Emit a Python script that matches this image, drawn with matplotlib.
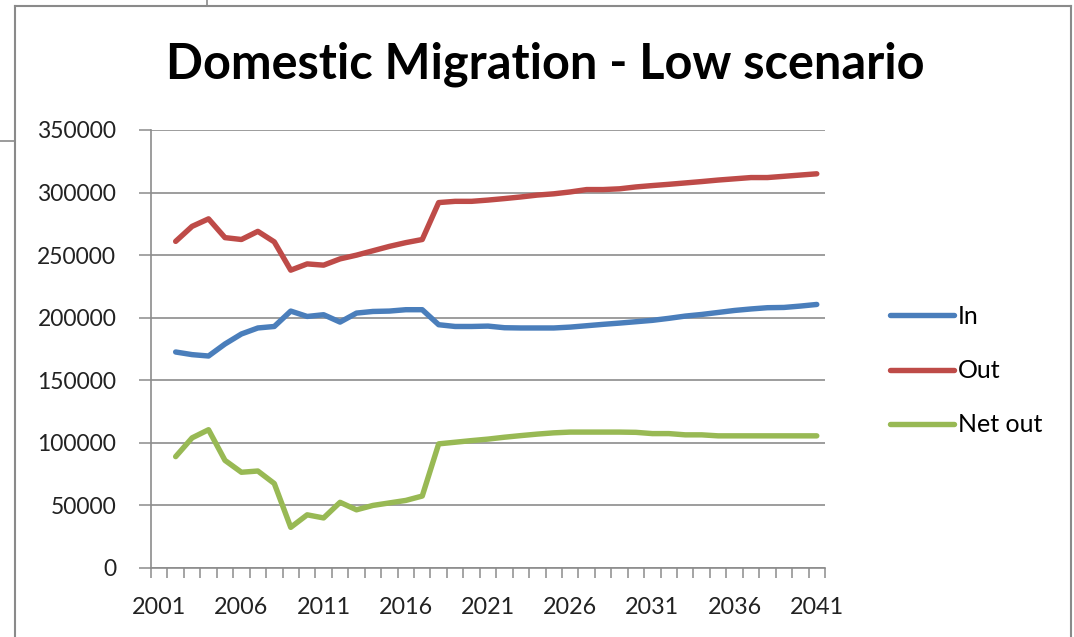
import matplotlib
matplotlib.use("Agg")
import matplotlib.pyplot as plt
from matplotlib.lines import Line2D
import numpy as np

plt.rcParams['font.family'] = ['Lato', 'DejaVu Sans']

categories = list(range(2001, 2042))
years = list(range(2002, 2042))

in_vals = [172600, 170500, 169400, 179000, 187000, 191800, 193000, 205300, 201000, 202400,
           196500, 203700, 205000, 205300, 206400, 206400, 194400, 193000, 193000, 193300,
           192000, 191800, 191800, 191800, 192500, 193600, 194700, 195700, 196800, 197900,
           199500, 201300, 202600, 204200, 205800, 207000, 208000, 208200, 209300, 210600]
out_vals = [261000, 273000, 279000, 264000, 262500, 269000, 260600, 238000, 243000, 242000,
            247000, 250000, 253500, 257000, 260000, 262500, 292000, 293000, 293000, 294000,
            295200, 296500, 298000, 299000, 300500, 302400, 302400, 303000, 304500, 305600,
            306600, 307700, 308800, 310000, 311000, 312000, 312000, 313000, 314000, 315000]
net_vals = [89000, 104000, 110500, 86000, 76500, 77500, 67500, 32500, 42500, 40000,
            52500, 46500, 50000, 52000, 54000, 57500, 99200, 100500, 101800, 103000,
            104500, 105800, 107000, 108000, 108600, 108600, 108600, 108600, 108400, 107400,
            107400, 106400, 106400, 105600, 105600, 105600, 105600, 105600, 105600, 105600]

series_names = ["In", "Out", "Net out"]
colors = ["#4A7EBB", "#BE4B48", "#98B954"]
y_ticks = [0, 50000, 100000, 150000, 200000, 250000, 300000, 350000]
x_labels = [2001, 2006, 2011, 2016, 2021, 2026, 2031, 2036, 2041]

W, H = 1074, 637
fig = plt.figure(figsize=(W / 100, H / 100), dpi=100)
fig.patch.set_facecolor("white")

# plot area in pixels: x 151..825, y 130..568
ax = fig.add_axes([151 / W, 1 - 568 / H, (825 - 151) / W, (568 - 130) / H])

for vals, name, c in zip([in_vals, out_vals, net_vals], series_names, colors):
    ax.plot(years, vals, color=c, lw=3.9, label=name, solid_capstyle='round',
            solid_joinstyle='round', zorder=3)

ax.set_xlim(categories[0] - 0.5, categories[-1] + 0.5)
ax.set_ylim(0, 350000)
ax.set_yticks(y_ticks)
ax.set_yticklabels([str(v) for v in y_ticks], fontsize=16.5, color="#222222")
ax.yaxis.grid(True, color="#8c8c8c", lw=1.2, zorder=1)
ax.set_axisbelow(True)

bounds = np.arange(categories[0] - 0.5, categories[-1] + 1.0, 1.0)
ax.set_xticks(bounds, minor=True)
ax.set_xticks(x_labels)
ax.set_xticklabels([str(v) for v in x_labels], fontsize=16.8, color="#222222")
ax.tick_params(axis='x', which='major', length=0, pad=21)
ax.tick_params(axis='x', which='minor', length=7, width=1.1, color="#8c8c8c", direction='out')
ax.tick_params(axis='y', which='major', length=9, width=1.1, color="#8c8c8c", pad=16)

for s in ['top', 'right']:
    ax.spines[s].set_visible(False)
for s in ['left', 'bottom']:
    ax.spines[s].set_color("#8c8c8c")
    ax.spines[s].set_linewidth(1.2)

fig.text(545 / W, 1 - 64 / H, "Domestic Migration - Low scenario", ha='center', va='center',
         fontsize=35, fontweight='bold', color="black")

leg = fig.legend(loc='upper left', bbox_to_anchor=(880 / W, 1 - 295 / H), frameon=False,
                 fontsize=18, handlelength=2.55, handletextpad=0.15, labelspacing=1.25,
                 borderaxespad=0)

# chart frame and spreadsheet cell lines
frame_color = "#8a8a8a"
fig.add_artist(Line2D([15 / W, 1071 / W], [1 - 6 / H, 1 - 6 / H], color=frame_color, lw=1.5))
fig.add_artist(Line2D([15 / W, 15 / W], [1 - 6 / H, 0], color=frame_color, lw=1.5))
fig.add_artist(Line2D([1071 / W, 1071 / W], [1 - 6 / H, 0], color=frame_color, lw=1.5))
fig.add_artist(Line2D([207 / W, 207 / W], [1, 1 - 6 / H], color=frame_color, lw=1.2))
fig.add_artist(Line2D([0, 15 / W], [1 - 141 / H, 1 - 141 / H], color=frame_color, lw=1.2))

fig.savefig("out.png", dpi=100, facecolor="white")
